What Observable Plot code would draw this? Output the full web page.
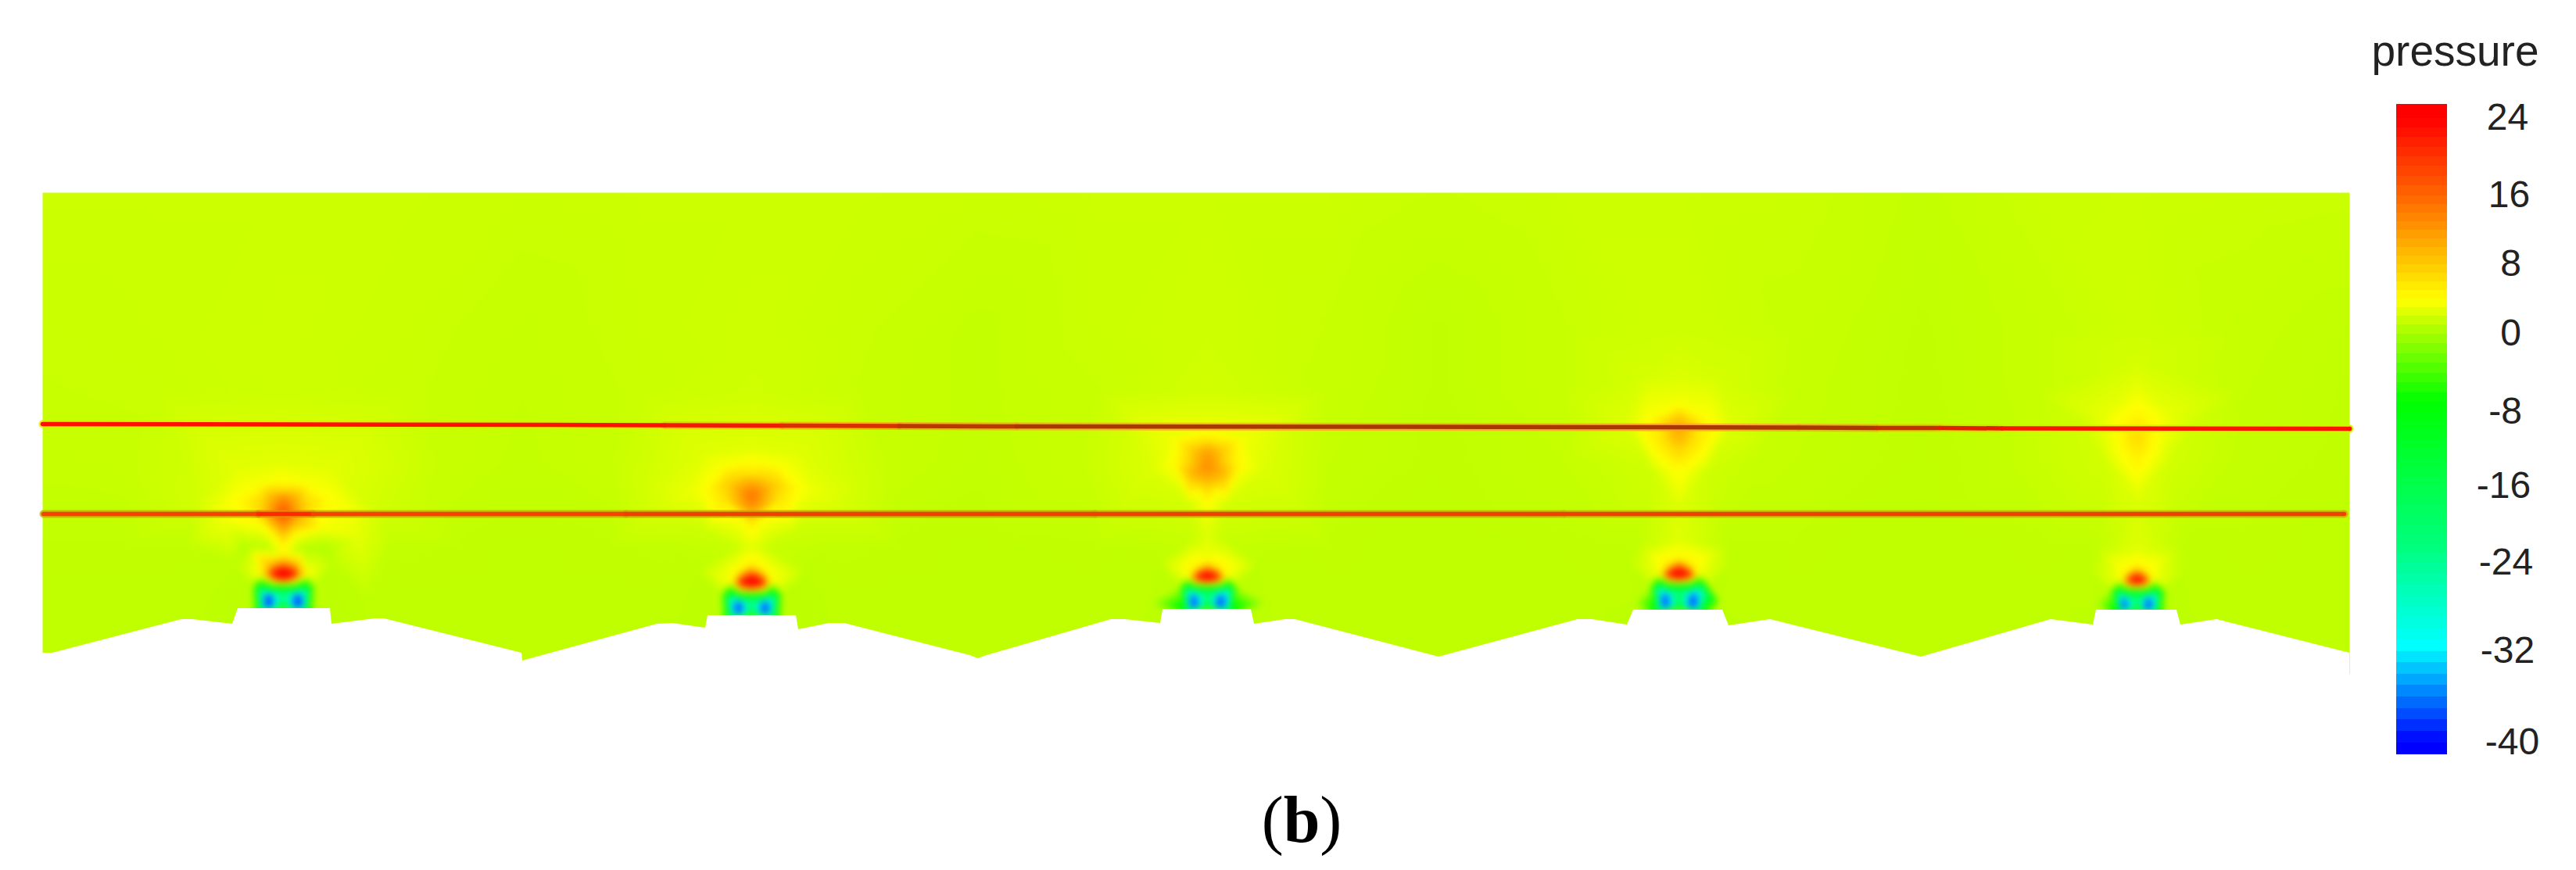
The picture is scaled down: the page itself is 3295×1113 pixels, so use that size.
<!DOCTYPE html>
<html>
<head>
<meta charset="utf-8">
<script src="https://cdn.jsdelivr.net/npm/d3@7"></script>
<script src="https://cdn.jsdelivr.net/npm/@observablehq/plot@0.6"></script>
<style>
html,body{margin:0;padding:0;background:#fff;overflow:hidden}
svg{display:block}
#cap{box-sizing:border-box;width:3295px;height:113px;padding-left:35px;text-align:center;font:84px/97px "Liberation Serif",serif;color:#000}
</style>
</head>
<body>
<div id="chart"></div>
<div id="cap">(<b>b</b>)</div>
<script>
// Legend
const legendTitle = "pressure";
const legendValues = [24, 16, 8, 0, -8, -16, -24, -32, -40];
const legendLabels = ["24", "16", "8", "0", "-8", "-16", "-24", "-32", "-40"];
const legendX = [3207, 3209, 3211, 3211, 3204, 3202, 3205, 3207, 3213];
const legendY = [150.5, 249.5, 337.5, 426.5, 526.5, 621.5, 719.5, 832.5, 949.5];
const colorStops = [-40, -31.6, -22.6, -6.9, 3.8, 24];
const colorRange = ["#0000ff", "#00ffff", "#00ff80", "#00ff00", "#ffff00", "#ff0000"];

// Road surface seen as white profile
const groundX = [54, 67, 232, 246, 297, 304, 422, 424, 480, 491, 667, 668, 679, 840, 860, 902, 905, 1018, 1021, 1060, 1080, 1240, 1251, 1262, 1421, 1438, 1484, 1487, 1600, 1604, 1644, 1656, 1840, 2018, 2036, 2081, 2089, 2203, 2211, 2264, 2457, 2623, 2677, 2681, 2784, 2789, 2835, 3005];
const groundY = [835, 835, 792, 792, 798, 778, 778, 798, 791, 791, 835, 845, 842, 798, 797, 803, 787, 787, 805, 797, 797, 838, 842, 838, 792, 792, 797, 779, 779, 798, 792, 792, 840, 792, 792, 799, 780, 780, 800, 792, 840, 792, 799, 780, 780, 799, 792, 835];

// Measurement lines
const upperLineX = [54, 700, 850, 1000, 1150, 1300, 1800, 2100, 2300, 2400, 2480, 2560, 3005];
const upperLineY = [542, 543, 543.5, 544, 544.5, 545, 545.5, 546, 546.5, 547, 547, 547.5, 548];
const upperLineCore = ["#ff1000", "#ff1000", "#f01c00", "#d83000", "#b83800", "#a83800", "#a83800", "#a83800", "#a83800", "#c03000", "#e02000", "#f81800", "#ff1000"];
const upperLineHalo = ["#d8f000", "#d8f000", "#e8c800", "#f0b000", "#f8a020", "#ffa030", "#ffa030", "#ffa030", "#f0a820", "#e8c000", "#e0d800", "#d8f000", "#d0f800"];
const lowerLineX = [55, 330, 400, 800, 1400, 2000, 2998];
const lowerLineY = [657, 657, 657, 657, 657, 657, 657];
const lowerLineCore = ["#f84000", "#ff2800", "#f84000", "#f04000", "#f04000", "#f04000", "#f04000"];
const lowerLineHalo = ["#c8b000", "#e09000", "#c8b000", "#c8a800", "#c8b000", "#c8b800", "#d8b800"];

// Pressure: background field
const backgroundX = [54, 200, 360, 520, 668, 820, 960, 1100, 1251, 1400, 1544, 1700, 1840, 2000, 2147, 2300, 2457, 2600, 2733, 2870, 3005];
const backgroundTop = [1.65, 1.65, 1.65, 1.65, 1.6, 1.65, 1.65, 1.65, 1.6, 1.65, 1.65, 1.65, 1.5, 1.65, 1.65, 1.6, 1.3, 1.6, 1.65, 1.6, 1.55];
const backgroundMiddle = [1.55, 1.6, 1.7, 1.6, 1.4, 1.6, 1.7, 1.55, 1.3, 1.6, 1.75, 1.5, 1.2, 1.5, 1.75, 1.45, 1.2, 1.4, 1.7, 1.4, 1.25];
const backgroundBottom = [1.15, 1.15, 1.15, 1.15, 1.15, 1.15, 1.15, 1.15, 1.15, 1.15, 1.15, 1.15, 1.15, 1.15, 1.15, 1.15, 1.15, 1.15, 1.15, 1.15, 1.15];
const backgroundRows = [246, 420, 862];
const row500 = [[54,1.5],[200,1.55],[360,1.7],[520,1.55],[668,1.35],[820,1.55],[960,1.8],[1100,1.5],[1251,1.3],[1400,1.5],[1544,1.9],[1700,1.45],[1840,1.2],[2000,1.5],[2300,1.4],[2457,1.18],[2600,1.4],[2870,1.35],[3005,1.2]];
const row590 = [[54,1.4],[160,1.45],[560,1.5],[668,1.3],[780,1.5],[1140,1.45],[1251,1.25],[1380,1.5],[1700,1.35],[1840,1.18],[2000,1.35],[2250,1.4],[2457,1.15],[2560,1.3],[2860,1.3],[3005,1.18]];
const row700 = [[54,1.2],[160,1.2],[240,1.2],[500,1.25],[590,1.2],[668,1.15],[780,1.2],[860,1.25],[1060,1.25],[1150,1.2],[1251,1.15],[1400,1.2],[1480,1.25],[1620,1.25],[1700,1.2],[1840,1.12],[2040,1.2],[2090,1.2],[2210,1.2],[2300,1.2],[2457,1.12],[2620,1.2],[2680,1.2],[2790,1.2],[2860,1.2],[3005,1.15]];
const row770 = [[54,1.15],[150,1.15],[260,1.1],[470,1.1],[570,1.15],[668,1.15],[800,1.15],[870,1.1],[1060,1.1],[1150,1.15],[1251,1.15],[1400,1.15],[1470,1.1],[1620,1.1],[1720,1.15],[1840,1.12],[2020,1.15],[2090,1.1],[2200,1.1],[2300,1.15],[2457,1.12],[2620,1.15],[2680,1.1],[2800,1.1],[2900,1.15],[3005,1.15]];
const rowHeights = [500, 590, 700, 770];

// Pressure: one list of [x, y, pressure] per rail fastening
const column1 = [
 [362,657,18],[362,640,14],[362,631,10],[362,622,4.6],[362,614,3.8],[335,645,7.5],[389,645,7.5],[345,633,9],[379,633,9],[345,665,10],[379,665,10],[362,680,10],[350,685,4],[374,685,4],[362,697,4.8],
 [325,657,5],[399,657,5],[300,640,3.8],[424,640,3.8],[330,620,3.6],[394,620,3.6],[280,650,3.2],[444,650,3.4],[290,667,3.2],[457,687,2.7],[414,675,3.4],[313,700,0.6],[413,700,0.5],[340,700,0.9],[384,700,0.9],
 [362,590,2.6],[300,600,2.6],[424,600,2.6],[250,640,1.9],[490,660,1.8],[350,708,2],[374,708,2],[362,710,5],
 [362,735,29],[350,735,24],[374,735,24],[362,727,22],[362,742,17],[338,735,8],[386,735,8],[362,720,12],[345,722,9],[379,722,9],[330,735,3.5],[394,735,3.5],[350,745,3],[374,745,3],[362,746,2],
 [322,750,1],[402,750,1],[322,790,1],[402,790,1],[300,720,1.1],[424,720,1.1],
 [330,748,-8],[393,748,-8],[330,778,-9],[393,778,-9],[338,749,-9],[386,749,-9],[343,752,-10],[362,752,-8],[380,752,-10],
 [335,755,-24],[389,755,-24],[335,760,-31],[335,775,-31],[389,760,-31],[389,775,-31],[343,757,-30],[380,757,-30],
 [343,762,-38],[380,762,-38],[343,768,-40],[380,768,-40],[343,775,-39],[380,775,-39],
 [352,762,-31],[371,762,-31],[362,764,-24],[362,772,-14],[362,778,-3],[352,776,-30],[371,776,-30]
];
const column2 = [
 [961,633,15],[961,612,9],[961,603,5],[933,620,8],[989,620,8],[945,610,7],[977,610,7],[961,650,12],[945,645,10],[977,645,10],[961,665,7],[950,665,3.8],[972,665,3.8],[961,678,4],
 [925,635,6],[997,635,6],[900,625,3.8],[1022,625,3.8],[883,630,3],[1040,630,3],[961,590,3.8],[925,595,3.6],[997,595,3.6],[961,570,2.5],[900,580,2.5],[1022,580,2.5],[961,700,2.6],[940,700,1.5],[982,700,1.5],
 [850,650,2.2],[1075,650,2.1],[900,680,1.6],[1020,680,1.6],[820,620,1.9],[1100,620,1.9],
 [961,722,5],[945,728,4],[977,728,4],
 [961,745,29],[947,745,23],[975,745,23],[961,735,20],[961,753,13],[940,745,8],[982,745,8],[961,728,10],[945,733,7],[977,733,7],[932,745,3.5],[990,745,3.5],[945,755,3.5],[977,755,3.5],
 [922,760,1],[1000,760,1],[922,795,1],[1000,795,1],[890,730,1.1],[1032,730,1.1],
 [930,757,-8],[992,757,-8],[930,787,-9],[992,787,-9],[938,758,-9],[984,758,-9],[945,762,-10],[961,761,-8],[977,762,-10],
 [935,764,-24],[987,764,-24],[935,769,-31],[935,784,-31],[987,769,-31],[987,784,-31],[945,767,-31],[977,767,-31],
 [945,771,-37],[977,771,-37],[945,777,-39],[977,777,-39],[945,784,-38],[977,784,-38],
 [953,772,-30],[969,772,-30],[961,774,-23],[961,781,-14],[961,787,-3],[953,785,-29],[969,785,-29]
];
const column3 = [
 [1544,597,13],[1544,575,11],[1544,563,6],[1544,553,3.8],[1515,590,6],[1573,590,6],[1525,575,8],[1563,575,8],[1525,605,10],[1563,605,10],[1544,625,7],[1533,628,3.9],[1555,628,3.9],[1544,650,3.6],
 [1500,595,3.8],[1588,595,3.8],[1500,560,3.2],[1590,560,3.2],[1544,530,2.5],[1470,600,2.3],[1620,600,2.3],[1520,645,2],[1568,645,2],[1544,680,2.5],[1525,690,1.5],[1563,690,1.5],[1544,710,3.2],
 [1544,738,29],[1531,738,23],[1557,738,23],[1544,729,18],[1544,745,12],[1522,738,7],[1566,738,7],[1544,722,7],[1530,726,5],[1558,726,5],[1516,738,3],[1572,738,3],[1530,746,3],[1558,746,3],
 [1508,750,1],[1582,750,1],[1508,790,1],[1582,790,1],[1480,720,1.1],[1610,720,1.1],
 [1515,748,-8],[1575,748,-8],[1515,778,-9],[1575,778,-9],[1523,749,-9],[1567,749,-9],[1527,752,-10],[1544,751,-8],[1559,752,-10],
 [1519,755,-24],[1571,755,-24],[1519,760,-31],[1519,775,-31],[1571,760,-31],[1571,775,-31],[1527,757,-29],[1559,757,-29],
 [1527,762,-36],[1559,762,-36],[1527,768,-39],[1559,768,-39],[1527,775,-39],[1559,775,-39],
 [1536,762,-28],[1552,762,-28],[1544,764,-22],[1544,772,-13],[1544,778,-3],[1536,776,-29],[1552,776,-29]
];
const column4 = [
 [2147,548,11],[2147,530,7.5],[2147,518,3.9],[2147,505,3],[2125,540,6.5],[2169,540,6.5],[2110,535,3.8],[2184,535,3.8],[2128,565,6],[2166,565,6],[2147,565,9],[2147,580,6.5],[2135,600,3.5],[2159,600,3.5],[2147,612,3.7],
 [2147,650,2.4],[2080,540,2.4],[2215,540,2.4],[2147,480,2.3],[2100,480,2],[2195,480,2],[2110,600,1.8],[2185,600,1.8],[2147,690,2.5],[2147,710,3.4],
 [2147,735,29],[2134,735,23],[2160,735,23],[2147,725,19],[2147,742,12],[2125,735,7],[2169,735,7],[2147,718,8],[2133,722,5],[2161,722,5],[2118,735,3],[2176,735,3],[2133,743,3],[2161,743,3],
 [2110,750,1],[2186,750,1],[2110,790,1],[2186,790,1],[2080,720,1.1],[2215,720,1.1],
 [2118,745,-8],[2178,745,-8],[2118,778,-9],[2178,778,-9],[2126,746,-9],[2170,746,-9],[2130,750,-10],[2147,749,-8],[2164,750,-10],
 [2122,752,-24],[2174,752,-24],[2122,758,-31],[2122,775,-31],[2174,758,-31],[2174,775,-31],[2130,755,-28],[2164,755,-28],
 [2130,760,-36],[2164,760,-36],[2130,767,-39],[2164,767,-39],[2130,775,-39],[2164,775,-39],
 [2139,760,-27],[2155,760,-27],[2147,762,-22],[2147,771,-13],[2147,778,-3],[2139,776,-29],[2155,776,-29]
];
const column5 = [
 [2733,560,6.6],[2733,540,5.2],[2733,515,3.8],[2733,495,2.8],[2710,545,4.2],[2756,545,4.2],[2712,575,3.9],[2754,575,3.9],[2700,560,3.2],[2766,560,3.2],[2733,590,4.7],[2733,615,3.4],[2720,620,2.4],[2746,620,2.4],
 [2733,650,2.2],[2690,530,2.8],[2775,530,2.8],[2690,590,1.9],[2775,590,1.9],[2660,540,1.8],[2810,540,1.8],[2733,460,2],[2733,700,2.5],[2733,718,4.2],
 [2733,742,27],[2722,742,21],[2744,742,21],[2733,732,15],[2733,749,12],[2716,742,6],[2750,742,6],[2733,726,6],[2721,731,4.5],[2745,731,4.5],[2708,742,3],[2758,742,3],[2720,750,3],[2746,750,3],
 [2698,756,1],[2770,756,1],[2698,792,1],[2770,792,1],[2670,730,1.1],[2795,730,1.1],
 [2708,753,-8],[2760,753,-8],[2708,781,-9],[2760,781,-9],[2715,754,-9],[2753,754,-9],[2717,757,-10],[2733,756,-8],[2746,757,-10],
 [2711,760,-24],[2756,760,-24],[2711,764,-31],[2711,778,-31],[2756,764,-31],[2756,778,-31],[2717,762,-28],[2746,762,-28],
 [2717,766,-36],[2746,766,-36],[2717,771,-39],[2746,771,-39],[2717,778,-39],[2746,778,-39],
 [2725,766,-27],[2739,766,-27],[2733,768,-21],[2733,775,-13],[2733,781,-3],[2725,779,-28],[2739,779,-28]
];

// Tables built from the lists above
const samples = [column1, column2, column3, column4, column5].flat().map(([x, y, p]) => ({x, y, p}));
[backgroundTop, backgroundMiddle, backgroundBottom].forEach((row, i) =>
  row.forEach((p, j) => samples.push({x: backgroundX[j], y: backgroundRows[i], p})));
[row500, row590, row700, row770].forEach((row, i) =>
  row.forEach(([x, p]) => samples.push({x, y: rowHeights[i], p})));
const ground = groundX.map((x, i) => ({x, y: groundY[i]}));
const valueToBar = d3.scaleLinear(legendValues, legendY);
const bar = {left: 3065, right: 3130, top: 133, bottom: 965};
const keepInBar = y => Math.max(bar.top, Math.min(bar.bottom, y));
const bands = d3.range(-42, 26).map(v => ({
  v: v + 0.5,
  y1: keepInBar(valueToBar(v)),
  y2: keepInBar(valueToBar(v + 1))
}));
const font = "Liberation Sans";

const chart = Plot.plot({
  width: 3295,
  height: 1000,
  margin: 0,
  style: {background: "transparent", fontFamily: font},
  x: {domain: [0, 3295], range: [0, 3295], axis: null},
  y: {domain: [0, 1000], range: [0, 1000], axis: null},
  color: {type: "linear", domain: colorStops, range: colorRange, clamp: true, interpolate: "rgb"},
  marks: [
    Plot.raster(samples, {
      x: "x", y: "y", fill: "p",
      x1: 54, x2: 3005, y1: 246, y2: 862,
      pixelSize: 2,
      interpolate: "barycentric",
      blur: 1.5
    }),
    Plot.areaY(ground, {x: "x", y1: "y", y2: () => 880, fill: "white"}),
    Plot.line(upperLineX, {x: upperLineX, y: upperLineY, z: null, stroke: {value: upperLineHalo, scale: null}, strokeWidth: 10, strokeOpacity: 0.8}),
    Plot.line(lowerLineX, {x: lowerLineX, y: lowerLineY, z: null, stroke: {value: lowerLineHalo, scale: null}, strokeWidth: 10, strokeOpacity: 0.8}),
    Plot.line(upperLineX, {x: upperLineX, y: upperLineY, z: null, stroke: {value: upperLineCore, scale: null}, strokeWidth: 5.5}),
    Plot.line(lowerLineX, {x: lowerLineX, y: lowerLineY, z: null, stroke: {value: lowerLineCore, scale: null}, strokeWidth: 5.5}),
    Plot.rect(bands, {x1: () => bar.left, x2: () => bar.right, y1: "y1", y2: "y2", fill: "v", shapeRendering: "crispEdges"}),
    Plot.text(legendLabels, {x: legendX, y: legendY, text: d => d, fontSize: 48, fill: "#222", textAnchor: "middle"}),
    Plot.text([legendTitle], {x: () => 3140, y: () => 66, text: d => d, fontSize: 55, fill: "#222", textAnchor: "middle"})
  ]
});
document.getElementById("chart").append(chart);
</script>
</body>
</html>
